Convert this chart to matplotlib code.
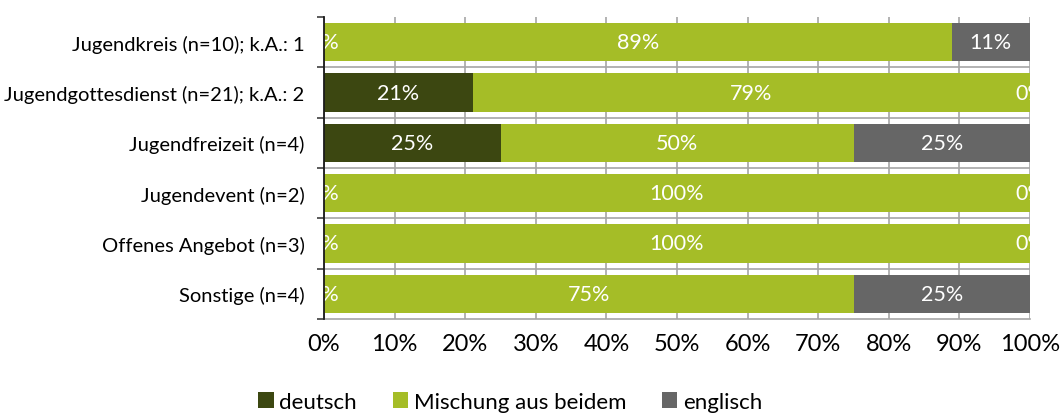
import numpy as np
import matplotlib.pyplot as plt

# Sprache der Angebote, Anteile in %
categories = ['Jugendkreis (n=10); k.A.: 1',
              'Jugendgottesdienst (n=21); k.A.: 2',
              'Jugendfreizeit (n=4)',
              'Jugendevent (n=2)',
              'Offenes Angebot (n=3)',
              'Sonstige (n=4)']
deutsch = [0, 21.05, 25, 0, 0, 0]
mischung = [88.89, 78.95, 50, 100, 100, 75]
englisch = [11.11, 0, 25, 0, 0, 25]
series_names = ['deutsch', 'Mischung aus beidem', 'englisch']
colors = ['#3c4711', '#a5bd27', '#666666']

plt.rcParams['font.family'] = ['Lato', 'DejaVu Sans']

fig = plt.figure(figsize=(10.63, 4.14), dpi=100)
ax = fig.add_axes([324 / 1063, 1 - 320 / 414, 706 / 1063, 302 / 414])

y = np.arange(len(categories))
left = np.zeros(len(categories))
for vals, name, col in zip([deutsch, mischung, englisch], series_names, colors):
    vals = np.array(vals)
    ax.barh(y, vals, left=left, height=0.76, color=col, label=name, zorder=3)
    for yi, l, v in zip(y, left, vals):
        ax.text(l + v / 2, yi, '%.0f%%' % v, ha='center', va='center',
                color='white', fontsize=15.5, zorder=4, clip_on=True)
    left += vals

ax.set_xlim(0, 100)
ax.set_ylim(len(categories) - 0.5, -0.5)
ax.set_xticks(np.arange(0, 101, 10))
ax.set_xticklabels(['%d%%' % t for t in range(0, 101, 10)], fontsize=17)
ax.tick_params(axis='x', length=0, pad=10)
ax.set_yticks(y)
ax.set_yticklabels(categories, fontsize=14.5)
ax.tick_params(axis='y', length=0, pad=14)
ax.set_yticks(np.arange(-0.5, len(categories)), minor=True)
ax.tick_params(axis='y', which='minor', length=5, width=1.2, color='#404040')

ax.grid(axis='x', color='#a6a6a6', lw=1.2, zorder=0)
for b in np.arange(0.5, len(categories) - 0.5):
    ax.axhline(b, color='#a6a6a6', lw=1.2, zorder=1)

for s in ['top', 'right']:
    ax.spines[s].set_visible(False)
ax.spines['bottom'].set_color('#a6a6a6')
ax.spines['bottom'].set_linewidth(1.2)
ax.spines['left'].set_color('#1a1a1a')
ax.spines['left'].set_linewidth(1.3)
ax.spines['left'].set_zorder(5)

fig.legend(loc='lower center', bbox_to_anchor=(0.48, -0.045), ncol=3,
           frameon=False, fontsize=16, handlelength=0.7, handleheight=0.7,
           handletextpad=0.25, columnspacing=1.6)

fig.savefig('out.png', dpi=100)
